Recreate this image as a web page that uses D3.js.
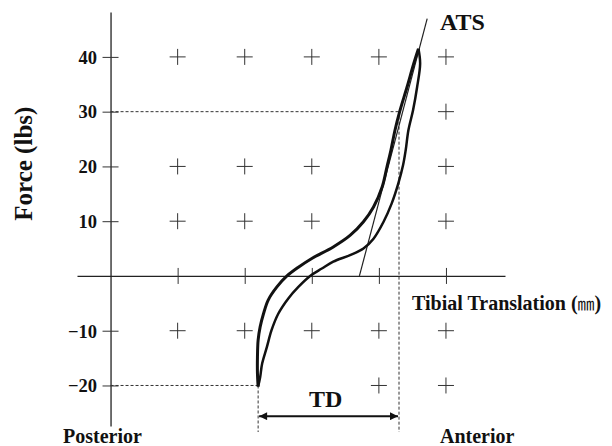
<!DOCTYPE html>
<html>
<head>
<meta charset="utf-8">
<script src="https://cdn.jsdelivr.net/npm/d3@7"></script>
<style>
  html, body { margin: 0; padding: 0; background: #fff; }
  svg { display: block; }
  text { font-family: "Liberation Serif", "Times New Roman", serif; font-weight: bold; fill: #111; }
</style>
</head>
<body>
<script>
// Force (lbs) versus tibial translation, in grid units along the x axis.
const yTicks = [40, 30, 20, 10, -10, -20];
const xTicks = [1, 2, 3, 4, 5];

// Left branch of the hysteresis loop, from the posterior limit up to the peak.
const leftBranchX = [2.20, 2.19, 2.19, 2.20, 2.23, 2.28, 2.35, 2.48, 2.63, 2.80, 3.00, 3.32, 3.57, 3.77, 3.92, 4.05, 4.12, 4.18, 4.24, 4.31, 4.42, 4.52, 4.59];
const leftBranchF = [-20.2, -17.8, -14.8, -11.7, -9.3, -6.9, -4.4, -2.0, 0, 1.6, 3.2, 5.3, 7.4, 9.9, 12.6, 16.3, 19.9, 23.0, 26.6, 30.0, 34.5, 38.8, 41.5];

// Right branch, from the peak back down to the posterior limit.
const rightBranchX = [4.59, 4.615, 4.57, 4.51, 4.44, 4.40, 4.36, 4.29, 4.19, 4.07, 3.92, 3.77, 3.57, 3.32, 3.15, 2.975, 2.80, 2.65, 2.50, 2.40, 2.33, 2.26, 2.23, 2.20];
const rightBranchF = [41.5, 38.8, 34.5, 30.3, 26.6, 23.0, 20.2, 16.9, 13.2, 9.9, 6.8, 5.0, 3.8, 2.6, 1.35, 0, -2.0, -4.1, -6.9, -9.9, -13.0, -16.0, -18.5, -20.2];

// Anterior tangent stiffness line (two end points).
const atsX = [3.71, 4.72];
const atsF = [0, 47];

// Translation at the two reference loads.
const posteriorLimit = { x: 2.20, f: -20 };
const anteriorLimit = { x: 4.30, f: 30 };

// Grid crosses: [column, force]
const crossCols = [1, 2, 3, 4, 5, 5, 1, 2, 3, 5, 1, 2, 3, 5, 1, 2, 3, 4, 5, 4, 5];
const crossF    = [40, 40, 40, 40, 40, 30, 20, 20, 20, 20, 10, 10, 10, 10, -10, -10, -10, -10, -10, -20, -20];

const W = 612, H = 446;
const svg = d3.select("body").append("svg").attr("width", W).attr("height", H);
svg.append("rect").attr("width", W).attr("height", H).attr("fill", "#fff");

const x = d3.scaleLinear().domain([-0.5, 5.88]).range([77, 505]);
const y = d3.scaleLinear().domain([-27.4, 48.2]).range([426, 12]);

// y axis, ticks crossing the axis line
const yAxis = svg.append("g")
  .attr("transform", `translate(${x(0)},0)`)
  .call(d3.axisLeft(y).tickValues(yTicks).tickSizeInner(16).tickSizeOuter(0).tickFormat(d3.format("d")));
yAxis.select(".domain").attr("stroke", "#222").attr("stroke-width", 1.3);
yAxis.selectAll(".tick line").attr("x1", 8).attr("x2", -8).attr("stroke", "#333").attr("stroke-width", 1);
yAxis.selectAll(".tick text")
  .attr("x", -13.5).attr("dy", "0.34em")
  .style("font-family", '"Liberation Serif", "Times New Roman", serif')
  .style("font-weight", "bold").style("font-size", "18.5px").attr("fill", "#111");

// x axis through zero force
const xAxis = svg.append("g")
  .attr("transform", `translate(0,${y(0)})`)
  .call(d3.axisBottom(x).tickValues(xTicks).tickSizeInner(16).tickSizeOuter(0).tickFormat(""));
xAxis.select(".domain").attr("stroke", "#222").attr("stroke-width", 1.3);
xAxis.selectAll(".tick line").attr("y1", -8).attr("y2", 8).attr("stroke", "#333").attr("stroke-width", 1);

// grid crosses
const crosses = svg.append("g").attr("stroke", "#333").attr("stroke-width", 1);
crossCols.forEach((c, i) => {
  const cx = x(c), cy = y(crossF[i]);
  crosses.append("line").attr("x1", cx - 8).attr("x2", cx + 8).attr("y1", cy).attr("y2", cy);
  crosses.append("line").attr("x1", cx).attr("x2", cx).attr("y1", cy - 8).attr("y2", cy + 8);
});

// dashed reference lines
const dashed = svg.append("g").attr("stroke", "#333").attr("stroke-width", 1).attr("stroke-dasharray", "3,2").attr("fill", "none");
dashed.append("line").attr("x1", x(0)).attr("x2", x(anteriorLimit.x)).attr("y1", y(anteriorLimit.f)).attr("y2", y(anteriorLimit.f));
dashed.append("line").attr("x1", x(0)).attr("x2", x(posteriorLimit.x)).attr("y1", y(posteriorLimit.f)).attr("y2", y(posteriorLimit.f));
dashed.append("line").attr("x1", x(anteriorLimit.x)).attr("x2", x(anteriorLimit.x)).attr("y1", y(anteriorLimit.f)).attr("y2", y(-28.5));
dashed.append("line").attr("x1", x(posteriorLimit.x)).attr("x2", x(posteriorLimit.x)).attr("y1", y(posteriorLimit.f)).attr("y2", y(-28.5));

// tangent line
svg.append("line")
  .attr("x1", x(atsX[0])).attr("y1", y(atsF[0]))
  .attr("x2", x(atsX[1])).attr("y2", y(atsF[1]))
  .attr("stroke", "#222").attr("stroke-width", 1.2);

// hysteresis loop
const line = d3.line().x(d => x(d[0])).y(d => y(d[1])).curve(d3.curveCatmullRom.alpha(0.5));
svg.append("path")
  .datum(leftBranchX.map((v, i) => [v, leftBranchF[i]]))
  .attr("d", line).attr("fill", "none").attr("stroke", "#111").attr("stroke-width", 3).attr("stroke-linejoin", "round");
svg.append("path")
  .datum(rightBranchX.map((v, i) => [v, rightBranchF[i]]))
  .attr("d", line).attr("fill", "none").attr("stroke", "#111").attr("stroke-width", 2.5).attr("stroke-linejoin", "round");

// TD double arrow
const defs = svg.append("defs");
["start", "end"].forEach(k => {
  defs.append("marker")
    .attr("id", "arrow-" + k)
    .attr("viewBox", "0 0 10 10").attr("refX", k === "end" ? 10 : 0).attr("refY", 5)
    .attr("markerWidth", 12).attr("markerHeight", 8).attr("markerUnits", "userSpaceOnUse")
    .attr("orient", "auto")
    .append("path")
    .attr("d", k === "end" ? "M0,0 L10,5 L0,10 Z" : "M10,0 L0,5 L10,10 Z")
    .attr("fill", "#111");
});
const arrowF = -25.6;
svg.append("line")
  .attr("x1", x(posteriorLimit.x) + 1).attr("x2", x(anteriorLimit.x) - 1)
  .attr("y1", y(arrowF)).attr("y2", y(arrowF))
  .attr("stroke", "#111").attr("stroke-width", 2)
  .attr("marker-start", "url(#arrow-start)").attr("marker-end", "url(#arrow-end)");

// labels
svg.append("text")
  .attr("transform", `translate(32,${y(20.5)}) rotate(-90)`)
  .attr("text-anchor", "middle").style("font-size", "25px")
  .text("Force (lbs)");
svg.append("text").attr("x", 440).attr("y", 30).style("font-size", "24px").text("ATS");
svg.append("text").attr("x", (x(posteriorLimit.x) + x(anteriorLimit.x)) / 2 - 3).attr("y", 407)
  .attr("text-anchor", "middle").style("font-size", "24px").text("TD");
const tt = svg.append("text").attr("x", 412).attr("y", 310).style("font-size", "20px");
tt.append("tspan").text("Tibial Translation (");
tt.append("tspan").style("font-weight", "normal").style("font-family", '"Noto Sans CJK KR", "Noto Sans CJK JP", sans-serif').style("font-size", "17px").text("㎜");
tt.append("tspan").text(")");
svg.append("text").attr("x", 63).attr("y", 443).style("font-size", "20px").text("Posterior");
svg.append("text").attr("x", 440).attr("y", 443).style("font-size", "20px").text("Anterior");
</script>
</body>
</html>
